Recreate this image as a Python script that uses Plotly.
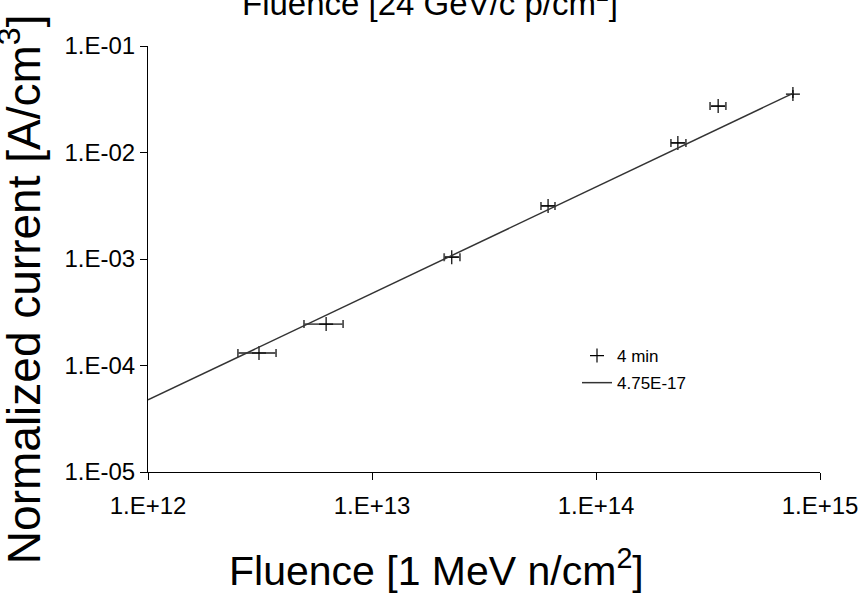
import numpy as np
import plotly.graph_objects as go

# ---- data ----
fluence = [3.13e12, 6.24e12, 2.27e13, 6.11e13, 2.32e14, 3.51e14, 7.57e14]
current = [1.31e-4, 2.45e-4, 1.04e-3, 3.15e-3, 1.23e-2, 2.73e-2, 3.54e-2]
fluence_low = [2.52e12, 4.97e12, 2.10e13, 5.68e13, 2.16e14, 3.23e14, 7.57e14]
fluence_high = [3.73e12, 7.43e12, 2.47e13, 6.56e13, 2.52e14, 3.80e14, 7.57e14]

alpha = 4.75e-17
fit_fluence = [1e12, 7.57e14]

x_tick_vals = [1e12, 1e13, 1e14, 1e15]
x_tick_text = ["1.E+12", "1.E+13", "1.E+14", "1.E+15"]
y_tick_vals = [1e-5, 1e-4, 1e-3, 1e-2, 1e-1]
y_tick_text = ["1.E-05", "1.E-04", "1.E-03", "1.E-02", "1.E-01"]

FONT = "Liberation Sans, Arial, sans-serif"

f = np.array(fluence)
err_plus = np.array(fluence_high) - f
err_minus = f - np.array(fluence_low)
fit_current = [alpha * v for v in fit_fluence]

fig = go.Figure()
fig.add_trace(go.Scatter(
    x=fluence, y=current, mode="markers", name="4 min",
    legendgroup="a",
    marker=dict(symbol="cross-thin", size=10, line=dict(color="black", width=1.2), color="black"),
    error_x=dict(type="data", symmetric=False, array=err_plus, arrayminus=err_minus,
                 color="#555555", thickness=1.8, width=4),
))
fig.add_trace(go.Scatter(
    x=fit_fluence, y=fit_current, mode="lines", name="4.75E-17",
    legendgroup="b",
    line=dict(color="#333333", width=1.5),
))

axis_common = dict(
    type="log", showgrid=False, zeroline=False, showline=True, automargin=False,
    linecolor="black", linewidth=1, ticks="outside", tickcolor="black",
    tickwidth=1, ticklen=7, tickfont=dict(family=FONT, size=24, color="black"),
)
fig.update_xaxes(range=[12, 15], tickvals=x_tick_vals, ticktext=x_tick_text,
                 ticklabelstandoff=5, **axis_common)
fig.update_yaxes(range=[-5, -1], tickvals=y_tick_vals, ticktext=y_tick_text, **axis_common)

fig.update_layout(
    width=860, height=595,
    margin=dict(l=148, r=40, t=46, b=123, autoexpand=False),
    paper_bgcolor="white", plot_bgcolor="white",
    font=dict(family=FONT, color="black"),
    showlegend=True,
    legend=dict(x=(577 - 148) / 672, y=(472 - 338) / 426, xanchor="left", yanchor="top",
                bgcolor="rgba(0,0,0,0)", font=dict(family=FONT, size=17, color="black"),
                traceorder="grouped", tracegroupgap=2),
    annotations=[
        dict(text="Fluence [24 GeV/c p/cm<sup>2</sup>]", xref="paper", yref="paper",
             x=(430 - 148) / 672, y=1.105, xanchor="center", yanchor="middle", showarrow=False,
             font=dict(family=FONT, size=33, color="black")),
        dict(text="Fluence [1 MeV n/cm<sup>2</sup>]", xref="paper", yref="paper",
             x=0.43, y=-0.225, xanchor="center", yanchor="middle", showarrow=False,
             font=dict(family=FONT, size=41, color="black")),
        dict(text="Normalized current [A/cm<sup>3</sup>]", xref="paper", yref="paper",
             x=-0.19, y=0.43, xanchor="center", yanchor="middle", showarrow=False,
             textangle=-90, font=dict(family=FONT, size=46, color="black")),
    ],
)

fig.write_html("out.html")
